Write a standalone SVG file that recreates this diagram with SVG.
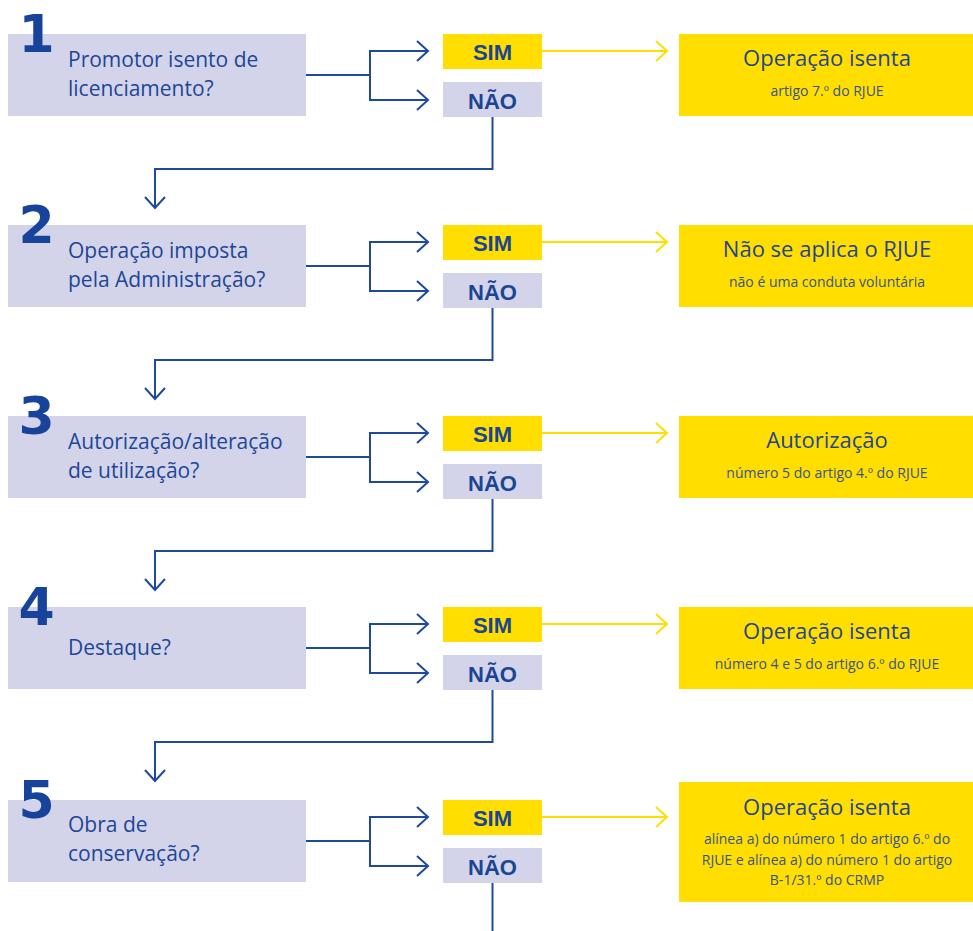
<svg xmlns="http://www.w3.org/2000/svg" width="973" height="931" viewBox="0 0 973 931">
<style>
.q{fill:#d3d4ea}
.y{fill:#ffde00}
.num{font-family:"DejaVu Sans",sans-serif;font-weight:bold;font-size:52px;fill:#17449a;text-anchor:middle}
.qt{font-family:"Open Sans",sans-serif;font-size:21px;fill:#1d4696}
.yn{font-family:"Liberation Sans",Arial,sans-serif;font-weight:bold;font-size:22px;fill:#1a4593;text-anchor:middle}
.rt{font-family:"Open Sans",sans-serif;font-size:22px;fill:#1f4591;text-anchor:middle}
.rs{font-family:"Open Sans",sans-serif;font-size:14px;fill:#3a5488;text-anchor:middle}
.bl{fill:none;stroke:#1d4a9c;stroke-width:2}
.yl{fill:none;stroke:#ffde00;stroke-width:2}
</style>
<defs>
<marker id="ab" markerUnits="userSpaceOnUse" markerWidth="14" markerHeight="24" viewBox="-12 -11 14 22" refX="0" refY="0" orient="auto">
<path d="M-11,-10 L0,0 L-11,10" fill="none" stroke="#1d4a9c" stroke-width="2"/>
</marker>
<marker id="ay" markerUnits="userSpaceOnUse" markerWidth="14" markerHeight="24" viewBox="-12 -11 14 22" refX="0" refY="0" orient="auto">
<path d="M-11,-10 L0,0 L-11,10" fill="none" stroke="#ffde00" stroke-width="2"/>
</marker>
</defs>
<rect width="973" height="931" fill="#ffffff"/>

<g id="connectors">
<path class="bl" d="M306,75 H370 V51 H428" marker-end="url(#ab)"/>
<path class="bl" d="M370,75 V100 H428" marker-end="url(#ab)"/>
<path class="yl" d="M542,51 H667" marker-end="url(#ay)"/>
<path class="bl" d="M492.5,117 V169 H155 V208" marker-end="url(#ab)"/>

<path class="bl" d="M306,266 H370 V242 H428" marker-end="url(#ab)"/>
<path class="bl" d="M370,266 V291 H428" marker-end="url(#ab)"/>
<path class="yl" d="M542,242 H667" marker-end="url(#ay)"/>
<path class="bl" d="M492.5,308 V360 H155 V399" marker-end="url(#ab)"/>

<path class="bl" d="M306,457 H370 V433 H428" marker-end="url(#ab)"/>
<path class="bl" d="M370,457 V482 H428" marker-end="url(#ab)"/>
<path class="yl" d="M542,433 H667" marker-end="url(#ay)"/>
<path class="bl" d="M492.5,499 V551 H155 V590" marker-end="url(#ab)"/>

<path class="bl" d="M306,648 H370 V624 H428" marker-end="url(#ab)"/>
<path class="bl" d="M370,648 V673 H428" marker-end="url(#ab)"/>
<path class="yl" d="M542,624 H667" marker-end="url(#ay)"/>
<path class="bl" d="M492.5,690 V742 H155 V781" marker-end="url(#ab)"/>

<path class="bl" d="M306,841 H370 V817 H428" marker-end="url(#ab)"/>
<path class="bl" d="M370,841 V866 H428" marker-end="url(#ab)"/>
<path class="yl" d="M542,817 H667" marker-end="url(#ay)"/>
<path class="bl" d="M492.5,883 V931"/>
</g>

<!-- Row 1 -->
<g id="q1">
<rect class="q" x="8" y="34" width="298" height="82"/>
<text class="num" x="36.5" y="52">1</text>
<text class="qt" x="68" y="67">Promotor isento de</text>
<text class="qt" x="68" y="96">licenciamento?</text>
</g>
<g id="sim1"><rect class="y" x="443" y="34" width="99" height="35"/><text class="yn" x="492.5" y="60">SIM</text></g>
<g id="nao1"><rect class="q" x="443" y="82" width="99" height="35"/><text class="yn" x="492.5" y="109">NÃO</text></g>
<g id="r1">
<rect class="y" x="679" y="34" width="294" height="82"/>
<text class="rt" x="827" y="66">Operação isenta</text>
<text class="rs" x="827" y="96">artigo 7.º do RJUE</text>
</g>

<!-- Row 2 -->
<g id="q2">
<rect class="q" x="8" y="225" width="298" height="82"/>
<text class="num" x="36.5" y="243">2</text>
<text class="qt" x="68" y="258">Operação imposta</text>
<text class="qt" x="68" y="287">pela Administração?</text>
</g>
<g id="sim2"><rect class="y" x="443" y="225" width="99" height="35"/><text class="yn" x="492.5" y="251">SIM</text></g>
<g id="nao2"><rect class="q" x="443" y="273" width="99" height="35"/><text class="yn" x="492.5" y="300">NÃO</text></g>
<g id="r2">
<rect class="y" x="679" y="225" width="294" height="82"/>
<text class="rt" x="827" y="257">Não se aplica o RJUE</text>
<text class="rs" x="827" y="287">não é uma conduta voluntária</text>
</g>

<!-- Row 3 -->
<g id="q3">
<rect class="q" x="8" y="416" width="298" height="82"/>
<text class="num" x="36.5" y="434">3</text>
<text class="qt" x="68" y="449">Autorização/alteração</text>
<text class="qt" x="68" y="478">de utilização?</text>
</g>
<g id="sim3"><rect class="y" x="443" y="416" width="99" height="35"/><text class="yn" x="492.5" y="442">SIM</text></g>
<g id="nao3"><rect class="q" x="443" y="464" width="99" height="35"/><text class="yn" x="492.5" y="491">NÃO</text></g>
<g id="r3">
<rect class="y" x="679" y="416" width="294" height="82"/>
<text class="rt" x="827" y="448">Autorização</text>
<text class="rs" x="827" y="478">número 5 do artigo 4.º do RJUE</text>
</g>

<!-- Row 4 -->
<g id="q4">
<rect class="q" x="8" y="607" width="298" height="82"/>
<text class="num" x="36.5" y="625">4</text>
<text class="qt" x="68" y="655">Destaque?</text>
</g>
<g id="sim4"><rect class="y" x="443" y="607" width="99" height="35"/><text class="yn" x="492.5" y="633">SIM</text></g>
<g id="nao4"><rect class="q" x="443" y="655" width="99" height="35"/><text class="yn" x="492.5" y="682">NÃO</text></g>
<g id="r4">
<rect class="y" x="679" y="607" width="294" height="82"/>
<text class="rt" x="827" y="639">Operação isenta</text>
<text class="rs" x="827" y="669">número 4 e 5 do artigo 6.º do RJUE</text>
</g>

<!-- Row 5 -->
<g id="q5">
<rect class="q" x="8" y="800" width="298" height="82"/>
<text class="num" x="36.5" y="818">5</text>
<text class="qt" x="68" y="832">Obra de</text>
<text class="qt" x="68" y="861">conservação?</text>
</g>
<g id="sim5"><rect class="y" x="443" y="800" width="99" height="35"/><text class="yn" x="492.5" y="826">SIM</text></g>
<g id="nao5"><rect class="q" x="443" y="848" width="99" height="35"/><text class="yn" x="492.5" y="875">NÃO</text></g>
<g id="r5">
<rect class="y" x="679" y="782" width="294" height="120"/>
<text class="rt" x="827" y="815">Operação isenta</text>
<text class="rs" x="827" y="844">alínea a) do número 1 do artigo 6.º do</text>
<text class="rs" x="827" y="865">RJUE e alínea a) do número 1 do artigo</text>
<text class="rs" x="827" y="885">B-1/31.º do CRMP</text>
</g>
</svg>
